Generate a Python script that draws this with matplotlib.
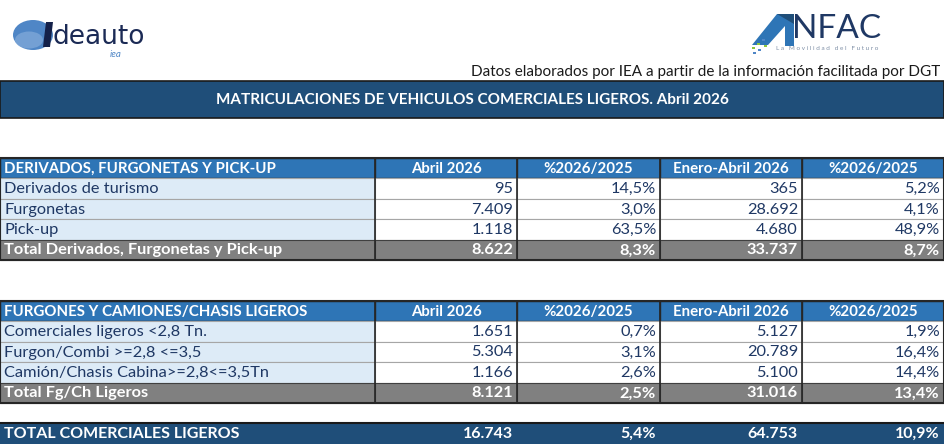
import matplotlib
matplotlib.use('Agg')
import matplotlib.pyplot as plt
from matplotlib.patches import Rectangle, Ellipse, Polygon

plt.rcParams['font.family'] = ['Lato', 'DejaVu Sans']

# ---- data ----
title = 'MATRICULACIONES DE VEHICULOS COMERCIALES LIGEROS. Abril 2026'
source = 'Datos elaborados por IEA a partir de la información facilitada por DGT'
col_heads = ['Abril 2026', '%2026/2025', 'Enero-Abril 2026', '%2026/2025']

t1_head = 'DERIVADOS, FURGONETAS Y PICK-UP'
t1_rows = ['Derivados de turismo', 'Furgonetas', 'Pick-up']
t1_abril = ['95', '7.409', '1.118']
t1_pct = ['14,5%', '3,0%', '63,5%']
t1_ytd = ['365', '28.692', '4.680']
t1_ytd_pct = ['5,2%', '4,1%', '48,9%']
t1_total = ['Total Derivados, Furgonetas y Pick-up', '8.622', '8,3%', '33.737', '8,7%']

t2_head = 'FURGONES Y CAMIONES/CHASIS LIGEROS'
t2_rows = ['Comerciales ligeros <2,8 Tn.', 'Furgon/Combi >=2,8 <=3,5',
           'Camión/Chasis Cabina>=2,8<=3,5Tn']
t2_abril = ['1.651', '5.304', '1.166']
t2_pct = ['0,7%', '3,1%', '2,6%']
t2_ytd = ['5.127', '20.789', '5.100']
t2_ytd_pct = ['1,9%', '16,4%', '14,4%']
t2_total = ['Total Fg/Ch Ligeros', '8.121', '2,5%', '31.016', '13,4%']

grand_total = ['TOTAL COMERCIALES LIGEROS', '16.743', '5,4%', '64.753', '10,9%']

# ---- layout (pixels) ----
W, H = 945, 444
col_x = [0, 375, 517, 660, 802, 944]
row_h = 20.4

navy = '#1F4E79'
head_blue = '#2E75B6'
light = '#DDEBF7'
grey = '#808080'
txt = '#1F3864'

fig = plt.figure(figsize=(W / 100, H / 100), dpi=100)
ax = fig.add_axes([0, 0, 1, 1])
ax.set_xlim(0, W)
ax.set_ylim(H, 0)
ax.axis('off')


def cell(x0, x1, y0, y1, fc, ec='#404040', lw=1.0):
    ax.add_patch(Rectangle((x0, y0), x1 - x0, y1 - y0, facecolor=fc,
                           edgecolor=ec, linewidth=lw))


def row(y0, values, fc_label, fc_vals, color, bold, size):
    y1 = y0 + row_h
    w = 'bold' if bold else 'normal'
    for i in range(5):
        fc = fc_label if i == 0 else fc_vals
        ec = '#404040' if bold else '#A6A6A6'
        cell(col_x[i], col_x[i + 1], y0, y1, fc, ec=ec, lw=0.8)
    for i, v in enumerate(values):
        if i == 0:
            ax.text(col_x[0] + 4, y0 + row_h / 2 + 0.5, v, ha='left', va='center',
                    color=color, fontsize=size, fontweight=w)
        else:
            ax.text(col_x[i + 1] - 4, y0 + row_h / 2 + 0.5, v, ha='right',
                    va='center', color=color, fontsize=size, fontweight=w)


def table(y0, head, labels, abril, pct, ytd, ytd_pct, total):
    # header row
    for i in range(5):
        cell(col_x[i], col_x[i + 1], y0, y0 + row_h, head_blue, ec='#262626', lw=1.0)
    ax.text(col_x[0] + 4, y0 + row_h / 2 + 0.5, head, ha='left', va='center',
            color='white', fontsize=10.8, fontweight='bold')
    for i, h in enumerate(col_heads):
        ax.text((col_x[i + 1] + col_x[i + 2]) / 2, y0 + row_h / 2 + 0.5, h,
                ha='center', va='center', color='white', fontsize=10.8,
                fontweight='bold')
    y = y0 + row_h
    for k in range(len(labels)):
        row(y, [labels[k], abril[k], pct[k], ytd[k], ytd_pct[k]], light, 'white',
            txt, False, 11.8)
        y += row_h
    row(y, total, grey, grey, 'white', True, 11.8)
    y += row_h
    # dark frame and column separators
    ax.add_patch(Rectangle((col_x[0], y0), col_x[-1] - col_x[0], y - y0,
                           fill=False, edgecolor='#262626', linewidth=1.5))
    for cx in col_x[1:-1]:
        ax.plot([cx, cx], [y0, y], color='#262626', linewidth=1.2)


# title bar
cell(0, W - 1, 81, 118, navy, ec='#1a1a1a', lw=1.2)
ax.text(W / 2, 100, title, ha='center', va='center', color='white',
        fontsize=11, fontweight='bold')
ax.text(940, 72, source, ha='right', va='center', color='#1a1a1a', fontsize=11)

table(158, t1_head, t1_rows, t1_abril, t1_pct, t1_ytd, t1_ytd_pct, t1_total)
table(301, t2_head, t2_rows, t2_abril, t2_pct, t2_ytd, t2_ytd_pct, t2_total)

# grand total
for i in range(5):
    cell(col_x[i], col_x[i + 1], 423, 444, navy, ec=navy, lw=0.8)
ax.plot([0, col_x[-1]], [423, 423], color='#1a1a1a', linewidth=1.5)
for i, v in enumerate(grand_total):
    if i == 0:
        ax.text(4, 433.5, v, ha='left', va='center', color='white',
                fontsize=11.5, fontweight='bold')
    else:
        ax.text(col_x[i + 1] - 4, 433.5, v, ha='right', va='center',
                color='white', fontsize=11.5, fontweight='bold')

# ideauto logo
ax.add_patch(Ellipse((33, 35), 40, 30, facecolor='#4F86C6', edgecolor='none'))
ax.add_patch(Ellipse((29, 40), 28, 17, facecolor='#8DB3DF', edgecolor='none',
                     alpha=0.6))
ax.add_patch(Polygon([[46, 22], [53, 22], [50, 47], [43, 47]],
                     facecolor='#14214A', edgecolor='none'))
ax.text(53, 44, 'deauto', ha='left', va='baseline', color='#1B2A55',
        fontsize=19, family='DejaVu Sans')
ax.text(110, 57, 'iea', ha='left', va='baseline', color='#4F86C6',
        fontsize=7, style='italic')

# ANFAC logo
ax.add_patch(Polygon([[752, 45], [777, 14], [794, 14], [794, 46], [785, 46],
                      [785, 26], [768, 45]], facecolor='#2E75B6', edgecolor='none'))
ax.add_patch(Polygon([[777, 14], [794, 14], [794, 24]], facecolor='#1F4E79',
                     edgecolor='none'))
ax.text(792, 29, 'NFAC', ha='left', va='center', color='#1F3864', fontsize=24)
ax.text(776, 49, 'L a   M o v i l i d a d   d e l   F u t u r o', ha='left',
        va='center', color='#7F8FA6', fontsize=4.6)
for (dx, dy, c) in [(752, 47, '#8DC63F'), (757, 43, '#8DC63F'), (758, 49, '#4F86C6'),
                    (762, 39, '#4F86C6'), (764, 45, '#8DC63F'), (753, 52, '#4F86C6')]:
    ax.add_patch(Rectangle((dx, dy), 2.5, 2.5, facecolor=c, edgecolor='none'))

fig.savefig('out.png', dpi=100)
